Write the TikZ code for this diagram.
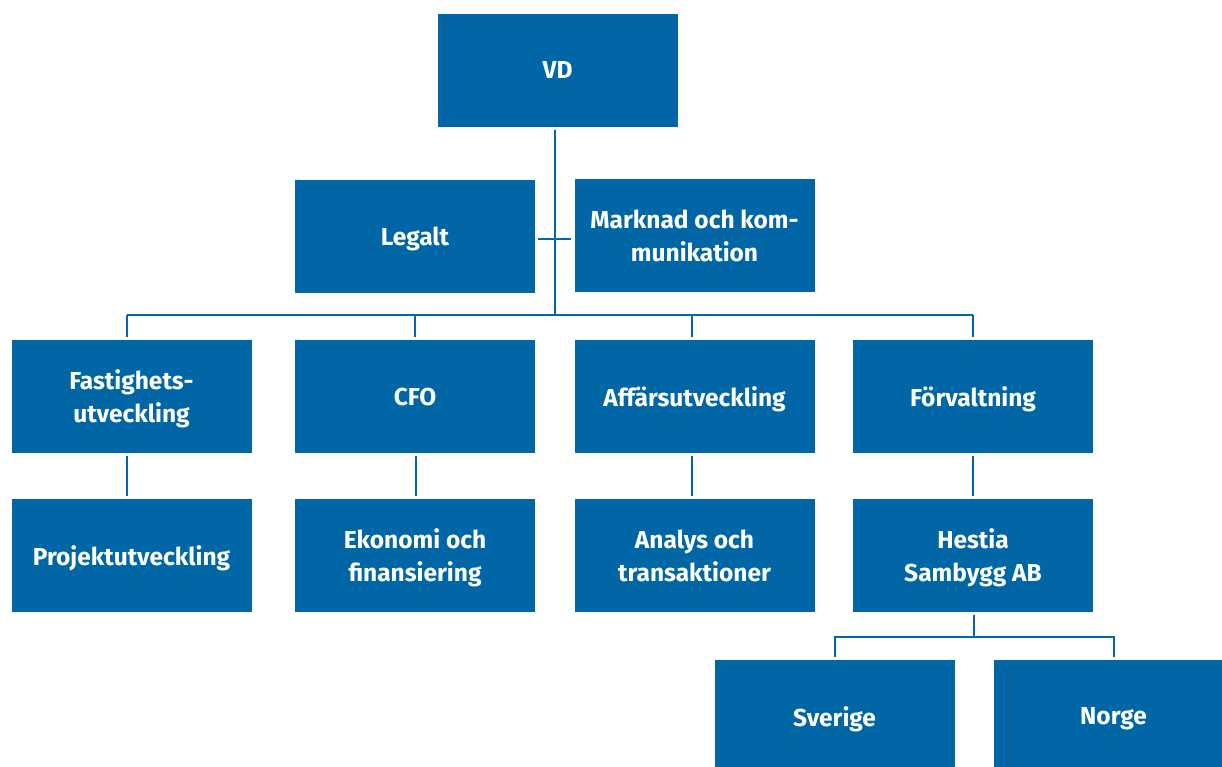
\documentclass[tikz,border=0pt]{standalone}
\usepackage{fontspec}
\setmainfont{Fira Sans}
\definecolor{boxblue}{HTML}{0066A6}
\begin{document}
\begin{tikzpicture}[x=1pt,y=-1pt,
  box/.style={fill=boxblue, draw=none, minimum width=240pt, minimum height=113pt,
    inner sep=0pt, text=white, align=center, text depth=0pt,
    font=\bfseries\fontsize{24.5}{33}\selectfont},
  link/.style={draw=boxblue, line width=2pt}]
\useasboundingbox (0,0) rectangle (1222,767);
\clip (0,0) rectangle (1222,767);

% boxes
\node[box] (vd)    at (557.5,70.5)  {VD};
\node[box] (leg)   at (415,236.5)   {Legalt};
\node[box] (mark)  at (694.5,235.5) {Marknad och kom-\\munikation};
\node[box] (fast)  at (131.5,396.5) {Fastighets-\\utveckling};
\node[box] (cfo)   at (415,396.5)   {CFO};
\node[box] (aff)   at (694.5,396.5) {Affärsutveckling};
\node[box] (forv)  at (973,396.5)   {Förvaltning};
\node[box] (proj)  at (131.5,555.5) {Projektutveckling};
\node[box] (ekon)  at (415,555.5)   {Ekonomi och\\finansiering};
\node[box] (anal)  at (694.5,555.5) {Analys och\\transaktioner};
\node[box] (hest)  at (973,555.5)   {Hestia\\Sambygg AB};
\node[box] (sve)   at (834.5,716.5) {Sverige};
\node[box] (nor)   at (1113.5,716.5){Norge};

% bus lines
\coordinate (busL) at (127,315);
\coordinate (busR) at (973,315);
\coordinate (subL) at (835,637);
\coordinate (subR) at (1114,637);

% VD down to the main bus
\draw[link] ([xshift=-2.5pt,yshift=-3pt]vd.south) -- ([xshift=-2.5pt]vd.south |- busL);
\draw[link] (busL) -- (busR);
% staff functions tick
\draw[link] ([xshift=3pt,yshift=-2.5pt]leg.east) -- ([xshift=-3pt,yshift=-3.5pt]mark.west);

% bus to the second row
\draw[link] (busL) -- ([xshift=-4.5pt,yshift=3pt]fast.north);
\draw[link] (cfo.north |- busL) -- ([yshift=3pt]cfo.north);
\draw[link] ([xshift=-2.5pt]aff.north |- busL) -- ([xshift=-2.5pt,yshift=3pt]aff.north);
\draw[link] (busR) -- ([yshift=3pt]forv.north);

% second row to third row
\draw[link] ([xshift=-4.5pt,yshift=-3pt]fast.south) -- ([xshift=-4.5pt,yshift=3pt]proj.north);
\draw[link] ([xshift=1pt,yshift=-3pt]cfo.south) -- ([xshift=1pt,yshift=3pt]ekon.north);
\draw[link] ([xshift=-2.5pt,yshift=-3pt]aff.south) -- ([xshift=-2.5pt,yshift=3pt]anal.north);
\draw[link] ([yshift=-3pt]forv.south) -- ([yshift=3pt]hest.north);

% Hestia to its subsidiaries
\draw[link] ([xshift=1pt,yshift=-3pt]hest.south) -- ([xshift=1pt]hest.south |- subL);
\draw[link] ([xshift=0.5pt,yshift=3pt]sve.north) |- (subL) -- (subR) -- ([xshift=0.5pt,yshift=3pt]nor.north);
\end{tikzpicture}
\end{document}
